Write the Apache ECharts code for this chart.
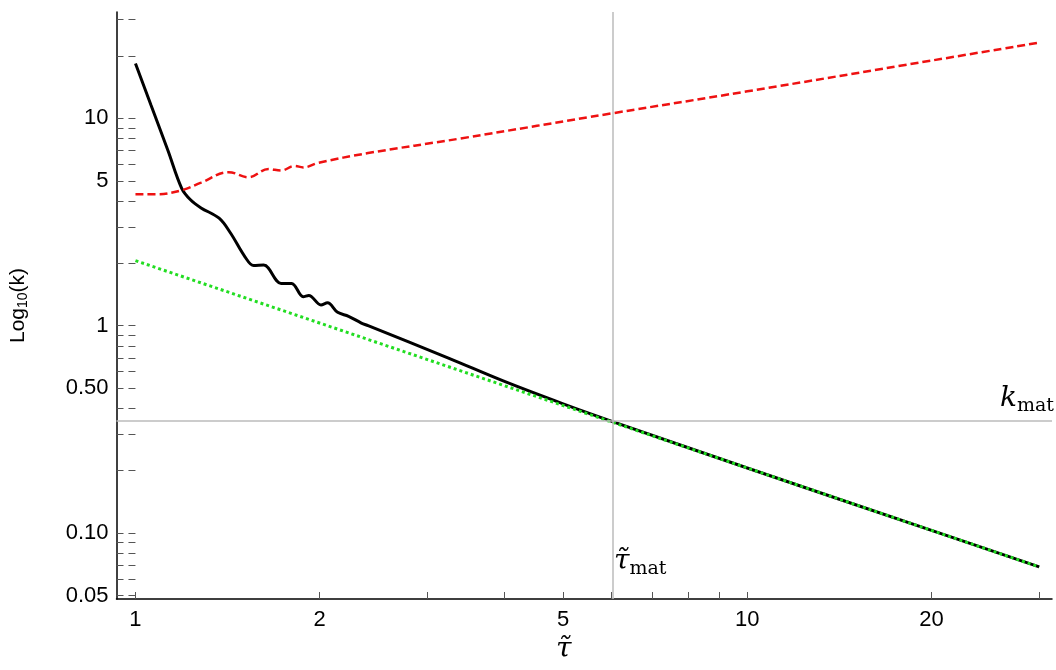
<!DOCTYPE html>
<html style="height: 100%">
<head>
<meta charset="utf-8">
<script src="https://cdn.jsdelivr.net/npm/echarts@6/dist/echarts.min.js"></script>
</head>
<body style="height: 100%; margin: 0; background: #fff">
<div id="container" style="width: 1056px; height: 670px"></div>
<script type="text/javascript">
// values (tau, k)
var blackTau = [1.0, 1.06, 1.13, 1.19, 1.23, 1.28, 1.37, 1.43, 1.51, 1.56, 1.62, 1.73, 1.80, 1.88, 1.92, 2.01, 2.06, 2.14, 2.23, 2.34, 2.40, 3.24, 4, 5, 6.04, 10, 20, 30];
var blackK = [18.4, 11.6, 7.0, 4.6, 4.05, 3.7, 3.3, 2.8, 2.15, 1.95, 1.96, 1.6, 1.6, 1.38, 1.4, 1.26, 1.29, 1.16, 1.11, 1.03, 1.0, 0.70, 0.54, 0.42, 0.344, 0.206, 0.103, 0.0687];
var redTau = [1.0, 1.08, 1.19, 1.28, 1.42, 1.53, 1.65, 1.73, 1.82, 1.88, 1.99, 2.40, 3.40, 6.04, 10, 20, 30];
var redK = [4.3, 4.3, 4.5, 4.9, 5.5, 5.2, 5.7, 5.6, 5.9, 5.8, 6.1, 6.8, 8.0, 10.6, 13.5, 19.0, 23.2];
var greenTau = [1, 30];
var greenK = [2.06, 0.0687];
var tauMat = 6.04;
var kMat = 0.344;
var xLabels = [1, 2, 5, 10, 20];
var xMinor = [1, 2, 3, 4, 5, 6, 7, 8, 9, 10, 20, 30];
var yLabels = [0.05, 0.1, 0.5, 1, 5, 10];
var yLabelText = ['0.05', '0.10', '0.50', '1', '5', '10'];
var yMinor = [0.05, 0.06, 0.07, 0.08, 0.09, 0.1, 0.2, 0.3, 0.4, 0.5, 0.6, 0.7, 0.8, 0.9, 1, 2, 3, 4, 5, 6, 7, 8, 9, 10, 20, 30];

var lg = Math.log10;
function pairs(xs, ys) {
    return xs.map(function (x, i) { return [lg(x), lg(ys[i])]; });
}
var xmin = -0.031, xmax = 1.498, ymin = -1.318, ymax = 1.513;
function labelOf(v, vals, texts) {
    for (var i = 0; i < vals.length; i++) {
        if (Math.abs(lg(vals[i]) - v) < 1e-6) return texts[i];
    }
    return '';
}
var font = {fontFamily: 'Liberation Sans', fontSize: 22, color: '#000'};
var serif = {
    i: {fontFamily: 'DejaVu Serif', fontStyle: 'italic', fontSize: 28, fill: '#000'},
    s: {fontFamily: 'DejaVu Serif', fontSize: 19, fill: '#000', padding: [14, 0, 0, 0]}
};

var myChart = echarts.init(document.getElementById('container'));
var option = {
    animation: false,
    grid: {left: 115, right: 4, top: 12, bottom: 71},
    xAxis: [{
        type: 'value', min: xmin, max: xmax,
        splitLine: {show: false},
        axisLine: {onZero: false, lineStyle: {color: '#000', width: 1.5}},
        axisTick: {inside: true, length: 7, customValues: xMinor.map(lg), lineStyle: {color: '#555'}},
        axisLabel: Object.assign({
            customValues: xLabels.map(lg),
            margin: 10,
            formatter: function (v) { return labelOf(v, xLabels, xLabels.map(String)); }
        }, font)
    }],
    yAxis: [{
        type: 'value', min: ymin, max: ymax,
        splitLine: {show: false},
        axisLine: {onZero: false, lineStyle: {color: '#000', width: 1.5}},
        axisTick: {inside: true, length: 7, customValues: yMinor.map(lg), lineStyle: {color: '#555'}},
        axisLabel: Object.assign({
            customValues: yLabels.map(lg),
            margin: 8,
            formatter: function (v) { return labelOf(v, yLabels, yLabelText); }
        }, font),
        name: '{a|Log}{s|10}{a|(k)}',
        nameLocation: 'middle',
        nameGap: 86,
        nameRotate: 90,
        nameTextStyle: {rich: {a: {fontFamily: 'Liberation Sans', fontSize: 21, color: '#000'},
                               s: {fontFamily: 'Liberation Sans', fontSize: 14, color: '#000', padding: [10, 0, 0, 0]}}}
    }, {
        type: 'value', min: ymin, max: ymax, position: 'right',
        splitLine: {show: false},
        axisLine: {show: false},
        axisTick: {inside: true, length: 7, customValues: yMinor.map(lg), lineStyle: {color: '#555'}},
        axisLabel: {show: false}
    }],
    series: [{
        type: 'line', data: pairs(greenTau, greenK), showSymbol: false, z: 3,
        lineStyle: {color: '#22dd22', width: 3, type: [3, 3]}
    }, {
        type: 'line', data: pairs(blackTau, blackK), showSymbol: false, smooth: 0.35, z: 2,
        lineStyle: {color: '#000', width: 3}
    }, {
        type: 'line', data: pairs(redTau, redK), showSymbol: false, smooth: 0.4, z: 2,
        lineStyle: {color: '#ee1111', width: 2.5, type: [8, 4]},
        markLine: {
            silent: true, symbol: 'none', label: {show: false},
            lineStyle: {color: '#bbb', width: 1.5, type: 'solid'},
            data: [{xAxis: lg(tauMat)}, {yAxis: lg(kMat)}]
        }
    }],
    graphic: [{
        type: 'text', right: 2, top: 385,
        style: {text: '{i|k}{s|mat}', rich: serif}
    }, {
        type: 'text', left: 614, top: 548,
        style: {text: '{i|τ̃}{s|mat}', rich: serif}
    }, {
        type: 'text', left: 556, top: 636,
        style: {text: 'τ̃', fontFamily: 'DejaVu Serif', fontStyle: 'italic', fontSize: 28, fill: '#000'}
    }]
};
myChart.setOption(option);
</script>
</body>
</html>
